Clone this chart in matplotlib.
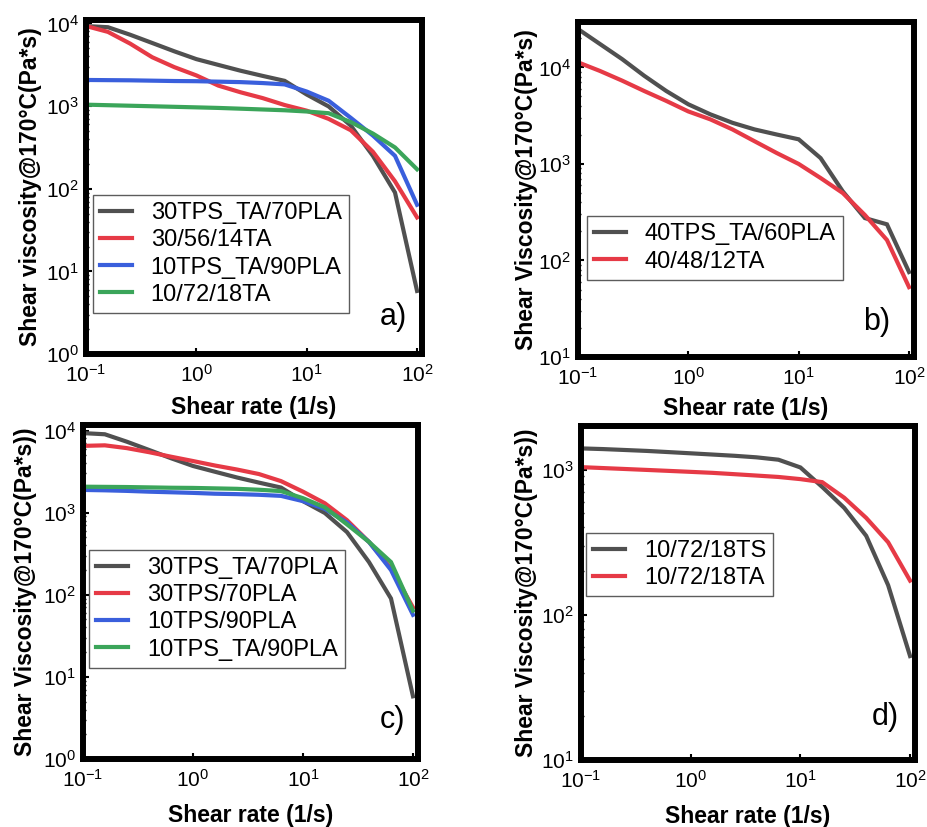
import matplotlib
matplotlib.use("Agg")
import matplotlib.pyplot as plt
from matplotlib.ticker import LogLocator, NullFormatter

plt.rcParams["font.family"] = ["Liberation Sans", "DejaVu Sans"]
plt.rcParams["mathtext.fontset"] = "custom"
plt.rcParams["mathtext.rm"] = "Liberation Sans"
plt.rcParams["mathtext.default"] = "regular"

# shear rate (1/s), 5 points per decade
rate = [0.1, 0.158, 0.251, 0.398, 0.631, 1.0, 1.58, 2.51, 3.98, 6.31,
        10.0, 15.8, 25.1, 39.8, 63.1, 100.0]

# viscosity (Pa*s)
tps30_ta_70pla = [9300, 9000, 7300, 5800, 4600, 3700, 3150, 2680, 2320, 2020,
                  1380, 990, 580, 250, 90, 5.8]
b30_56_14ta = [9300, 7900, 5700, 3900, 2960, 2350, 1770, 1470, 1250, 1030,
               880, 700, 510, 280, 123, 45]
tps10_ta_90pla = [2070, 2060, 2050, 2030, 2010, 2000, 1975, 1950, 1900, 1830,
                  1500, 1160, 720, 440, 250, 64]
b10_72_18ta = [1040, 1025, 1010, 995, 980, 965, 950, 930, 910, 890,
               860, 820, 640, 465, 316, 172]
tps40_ta_60pla = [25000, 17500, 12200, 8200, 5700, 4150, 3270, 2670, 2280, 2020,
                  1800, 1150, 520, 275, 237, 76]
b40_48_12ta = [11300, 9200, 7300, 5700, 4500, 3500, 2900, 2280, 1720, 1300,
               1000, 715, 500, 296, 163, 53]
tps30_70pla = [6500, 6600, 6100, 5450, 4800, 4250, 3750, 3350, 2950, 2420,
               1800, 1300, 810, 440, 210, 70]
tps10_90pla = [1890, 1870, 1840, 1800, 1770, 1740, 1700, 1680, 1650, 1600,
               1380, 1110, 760, 440, 200, 57]
b10_72_18ts = [1400, 1385, 1365, 1345, 1320, 1295, 1270, 1245, 1215, 1170,
               1035, 760, 545, 350, 160, 52]

GREY, RED, BLUE, GREEN = "#505050", "#e63a46", "#3a5fdc", "#3ba55a"

panels = [
    # pos, series, ylim, ylabel, legend anchor, letter pos, ylabel x, xlabel y
    dict(pos=[0.0928, 0.5719, 0.3625, 0.4039], ylim=(1, 1.1e4),
         series=[(tps30_ta_70pla, GREY, "30TPS_TA/70PLA"), (b30_56_14ta, RED, "30/56/14TA"),
                 (tps10_ta_90pla, BLUE, "10TPS_TA/90PLA"), (b10_72_18ta, GREEN, "10/72/18TA")],
         ylabel="Shear viscosity@170°C(Pa*s)", leg=(0.02, 0.476), letter="a)", lpos=(0.915, 0.11),
         ylx=-0.13, xly=-0.125),
    dict(pos=[0.6235, 0.5683, 0.3625, 0.405], ylim=(10, 2.95e4),
         series=[(tps40_ta_60pla, GREY, "40TPS_TA/60PLA"), (b40_48_12ta, RED, "40/48/12TA")],
         ylabel="Shear Viscosity@170°C(Pa*s)", leg=(0.027, 0.42), letter="b)", lpos=(0.89, 0.105),
         ylx=-0.12, xly=-0.118),
    dict(pos=[0.0895, 0.0822, 0.3614, 0.404], ylim=(1, 1.17e4),
         series=[(tps30_ta_70pla, GREY, "30TPS_TA/70PLA"), (tps30_70pla, RED, "30TPS/70PLA"),
                 (tps10_90pla, BLUE, "10TPS/90PLA"), (tps10_ta_90pla, GREEN, "10TPS_TA/90PLA")],
         ylabel="Shear Viscosity@170°C(Pa*s))", leg=(0.018, 0.626), letter="c)", lpos=(0.925, 0.117),
         ylx=-0.137, xly=-0.136),
    dict(pos=[0.6268, 0.081, 0.3603, 0.404], ylim=(10, 2.0e3),
         series=[(b10_72_18ts, GREY, "10/72/18TS"), (b10_72_18ta, RED, "10/72/18TA")],
         ylabel="Shear Viscosity@170°C(Pa*s))", leg=(0.015, 0.68), letter="d)", lpos=(0.91, 0.129),
         ylx=-0.129, xly=-0.136),
]

fig = plt.figure(figsize=(9.27, 8.27), dpi=100)
for p in panels:
    ax = fig.add_axes(p["pos"])
    for y, c, lab in p["series"]:
        ax.plot(rate, y, color=c, lw=3.0, label=lab, solid_joinstyle="miter")
    ax.set_xscale("log"); ax.set_yscale("log")
    ax.set_xlim(0.1, 111); ax.set_ylim(*p["ylim"])
    ax.xaxis.set_major_locator(LogLocator(base=10, numticks=10))
    ax.yaxis.set_major_locator(LogLocator(base=10, numticks=10))
    ax.xaxis.set_minor_formatter(NullFormatter()); ax.yaxis.set_minor_formatter(NullFormatter())
    for s in ax.spines.values():
        s.set_linewidth(4.3)
    ax.tick_params(which="major", direction="in", length=4, width=1.5, labelsize=15)
    ax.tick_params(axis="x", which="major", pad=7)
    ax.tick_params(axis="y", which="major", pad=5)
    ax.tick_params(which="minor", direction="in", length=2, width=1)
    ax.set_xlabel("Shear rate (1/s)", fontsize=16.5, fontweight="bold")
    ax.set_ylabel(p["ylabel"], fontsize=16.5, fontweight="bold")
    ax.yaxis.set_label_coords(p["ylx"], 0.5)
    ax.xaxis.set_label_coords(0.5, p["xly"])
    ax.xaxis.label.set_va("top")
    leg = ax.legend(loc="upper left", bbox_to_anchor=p["leg"], fontsize=17, frameon=True,
                    fancybox=False, edgecolor="#333333", borderaxespad=0, handlelength=1.35,
                    handletextpad=0.8, labelspacing=0.22, borderpad=0.3)
    leg.get_frame().set_linewidth(1.0)
    ax.text(p["lpos"][0], p["lpos"][1], p["letter"], transform=ax.transAxes, fontsize=22,
            ha="center", va="center")

fig.savefig("out.png", dpi=100)
